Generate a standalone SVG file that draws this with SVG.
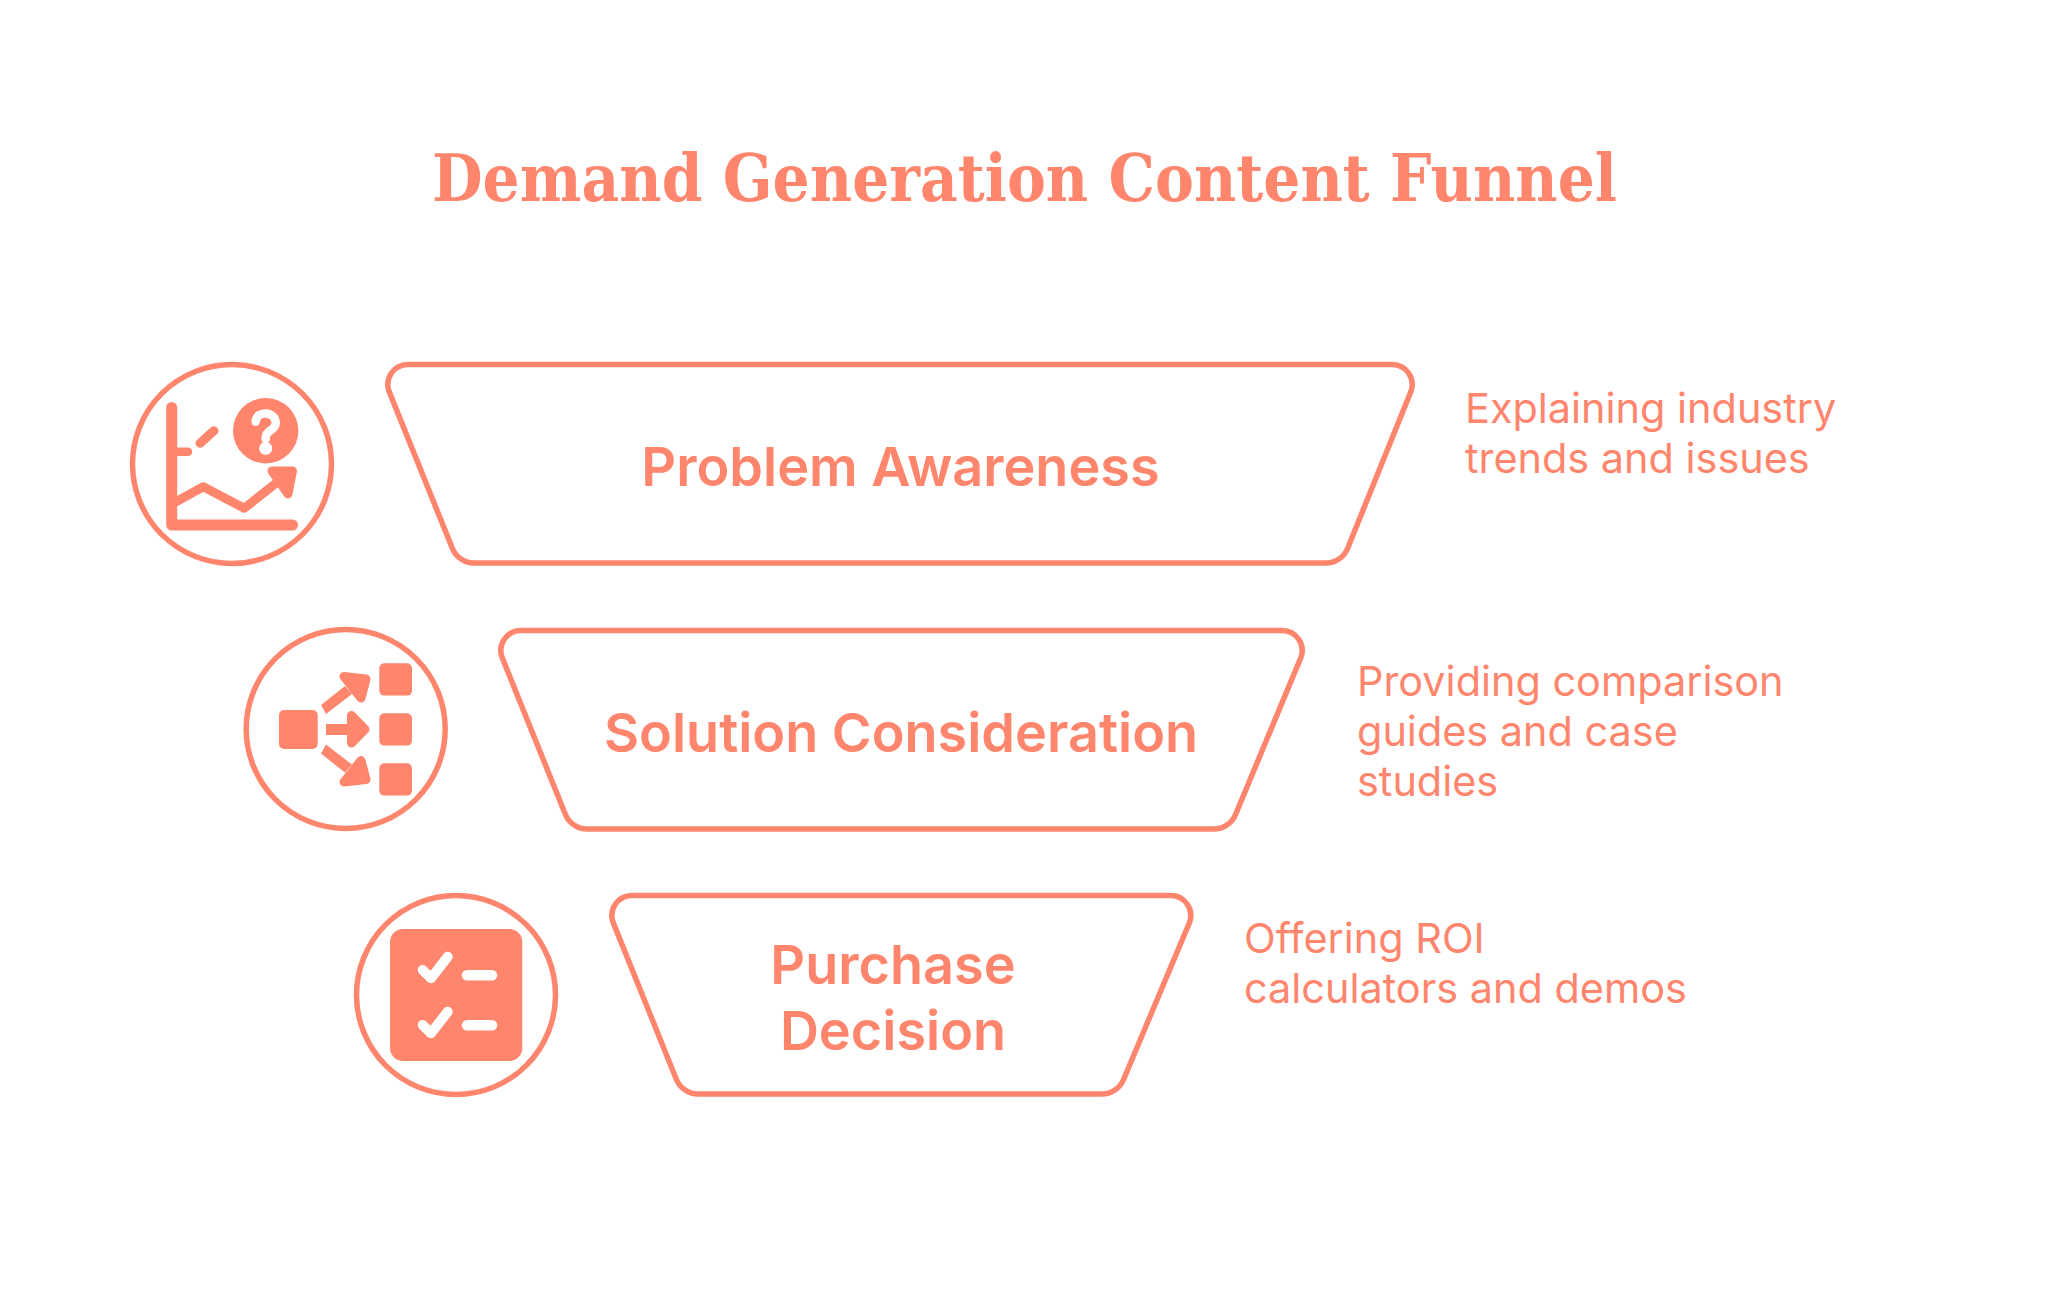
<svg xmlns="http://www.w3.org/2000/svg" width="2048" height="1293" viewBox="0 0 2048 1293">
<style>
.t{font-family:"DejaVu Serif","Liberation Serif",serif;font-weight:700;font-size:65px;fill:#ff866d}
.l{font-family:Inter,"Liberation Sans",sans-serif;font-weight:600;font-size:54px;fill:#ff866d;text-anchor:middle}
.d{font-family:Inter,"Liberation Sans",sans-serif;font-weight:400;font-size:41.4px;fill:#ff866d}
.o{fill:#fff;stroke:#ff866d;stroke-width:5.5}
.f{fill:#ff866d}
.s{fill:none;stroke:#ff866d;stroke-linecap:round;stroke-linejoin:round}
.h{fill:#ff866d;stroke:#ff866d;stroke-width:9;stroke-linejoin:round}
.w{fill:none;stroke:#fff;stroke-linecap:round;stroke-linejoin:round}
</style>
<rect width="2048" height="1293" fill="#fff"/>
<text id="title" class="t" x="432" y="201" textLength="1185" lengthAdjust="spacingAndGlyphs">Demand Generation Content Funnel</text>
<g id="node-problem">
<path class="o" d="M407.800 364.500 H1392.200 A20 20 0 0 1 1410.700 391.900 L1347.700 548.200 A23.700 23.700 0 0 1 1325.700 563 H474.300 A23.700 23.700 0 0 1 452.300 548.200 L389.300 391.900 A20 20 0 0 1 407.800 364.500 Z"/>
<text class="l" x="900.500" y="486">Problem Awareness</text>
<text class="d" x="1465" y="423">Explaining industry</text>
<text class="d" x="1465" y="473">trends and issues</text>
<circle class="o" cx="232" cy="464" r="99.500"/>
<path class="s" stroke-width="11" d="M171.700 407.500 V525 H292.500"/>
<path class="s" stroke-width="8.500" d="M172 451.700 H188"/>
<path class="s" stroke-width="9" d="M200 443.300 L214 430.700"/>
<path class="s" stroke-width="9" d="M176 501.700 L203.300 486.700 L244.300 508.300 L280 480"/>
<polygon class="h" points="272,471 292.500,471 288,494"/>
<circle class="f" cx="265.700" cy="430.700" r="32.700"/>
<path class="w" stroke-width="8.500" d="M255.700 421.700 C256 410 276 411 275.700 423.300 C275.500 430 265.700 431 265.700 437 V439"/>
<circle cx="265.700" cy="448.300" r="6.500" fill="#fff"/>
</g>
<g id="node-solution">
<path class="o" d="M520.800 364.500 H1282.200 A20 20 0 0 1 1300.700 391.900 L1235.700 548.200 A23.700 23.700 0 0 1 1213.700 563 H587.300 A23.700 23.700 0 0 1 565.300 548.200 L502.300 391.900 A20 20 0 0 1 520.800 364.500 Z" transform="translate(0 266)"/>
<text class="l" x="901" y="752">Solution Consideration</text>
<text class="d" x="1357" y="696">Providing comparison</text>
<text class="d" x="1357" y="746">guides and case</text>
<text class="d" x="1357" y="796">studies</text>
<circle class="o" cx="345.700" cy="729" r="99.500"/>
<rect class="f" x="279" y="710" width="38.700" height="39" rx="5"/>
<rect class="f" x="379.300" y="663.300" width="32.700" height="32.300" rx="5"/>
<rect class="f" x="379.300" y="713.300" width="32.700" height="32.300" rx="5"/>
<rect class="f" x="379.300" y="763.300" width="32.700" height="32.300" rx="5"/>
<rect class="f" x="326" y="724" width="26" height="11"/>
<polygon class="h" points="351.500,715.500 365,729.300 351.500,743"/>
<polygon class="f" points="321,705 326,714 352,694 345,686"/>
<polygon class="h" points="344,676.500 366,679 361,698"/>
<polygon class="f" points="321,753.600 326,744.600 352,764.600 345,772.600"/>
<polygon class="h" points="344,782 366,779.500 361,760.600"/>
</g>
<g id="node-purchase">
<path class="o" d="M631.800 364.500 H1170.700 A20 20 0 0 1 1189.300 391.900 L1123.700 548.200 A23.700 23.700 0 0 1 1101.700 563 H698.300 A23.700 23.700 0 0 1 676.300 548.200 L613.300 391.900 A20 20 0 0 1 631.800 364.500 Z" transform="translate(0 531)"/>
<text class="l" x="893" y="984">Purchase</text>
<text class="l" x="893" y="1050">Decision</text>
<text class="d" x="1244" y="953">Offering ROI</text>
<text class="d" x="1244" y="1003">calculators and demos</text>
<circle class="o" cx="456" cy="995" r="99.500"/>
<rect class="f" x="390" y="929" width="132.300" height="132" rx="13"/>
<path class="w" stroke-width="10" d="M422.700 970 L431 978.300 L447.700 956.700"/>
<path class="w" stroke-width="10" d="M422.700 1025 L431 1033.300 L447.700 1011.700"/>
<path class="w" stroke-width="10.500" d="M467 975.300 H492"/>
<path class="w" stroke-width="10.500" d="M467 1025.300 H492"/>
</g>
<g id="connectors"/>
</svg>
